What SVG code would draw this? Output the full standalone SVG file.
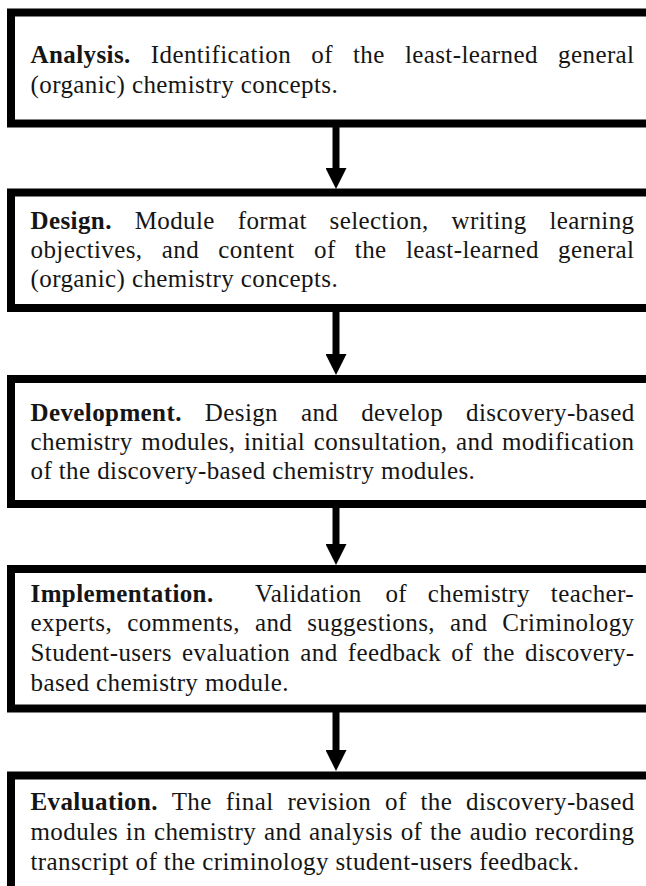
<svg xmlns="http://www.w3.org/2000/svg" width="646" height="886" viewBox="0 0 646 886">
<defs>
<style>
.box{fill:#fff;stroke:#000;stroke-width:8}
.t{font-family:"Liberation Serif","Times New Roman",serif;font-size:25px;letter-spacing:0.4px;fill:#151515}
.b{font-weight:bold}
.conn{stroke:#000;stroke-width:7;fill:none}
</style>
<marker id="ah" markerUnits="userSpaceOnUse" markerWidth="21" markerHeight="21" refX="0" refY="10.5" orient="auto">
<path d="M0,0 L21,10.5 L0,21 Z" fill="#000"/>
</marker>
</defs>
<rect width="646" height="886" fill="#fff"/>

<g id="connectors">
<line class="conn" x1="336" y1="127" x2="336" y2="168" marker-end="url(#ah)"/>
<line class="conn" x1="336" y1="311" x2="336" y2="354" marker-end="url(#ah)"/>
<line class="conn" x1="336" y1="507" x2="336" y2="544" marker-end="url(#ah)"/>
<line class="conn" x1="336" y1="712" x2="336" y2="750" marker-end="url(#ah)"/>
</g>

<g id="analysis">
<rect class="box" x="11" y="12.5" width="641" height="111"/>
<text class="t" y="63"><tspan class="b" x="30.5">Analysis.</tspan><tspan x="150.8">Identification</tspan><tspan x="311.3">of</tspan><tspan x="353.0">the</tspan><tspan x="404.9">least-learned</tspan><tspan x="558.1">general</tspan></text>
<text class="t" x="30.5" y="93">(organic) chemistry concepts.</text>
</g>

<g id="design">
<rect class="box" x="11" y="192.5" width="641" height="115.5"/>
<text class="t" y="229"><tspan class="b" x="30.5">Design.</tspan><tspan x="134.7">Module</tspan><tspan x="237.7">format</tspan><tspan x="329.6">selection,</tspan><tspan x="451.6">writing</tspan><tspan x="549.4">learning</tspan></text>
<text class="t" y="258"><tspan x="30.5">objectives,</tspan><tspan x="161.8">and</tspan><tspan x="218.3">content</tspan><tspan x="314.0">of</tspan><tspan x="354.8">the</tspan><tspan x="405.9">least-learned</tspan><tspan x="558.1">general</tspan></text>
<text class="t" x="30.5" y="287">(organic) chemistry concepts.</text>
</g>

<g id="development">
<rect class="box" x="11" y="379" width="641" height="125"/>
<text class="t" y="421"><tspan class="b" x="30.5">Development.</tspan><tspan x="204.8">Design</tspan><tspan x="300.9">and</tspan><tspan x="361.2">develop</tspan><tspan x="466.1">discovery-based</tspan></text>
<text class="t" y="450"><tspan x="30.5">chemistry</tspan><tspan x="141.3">modules,</tspan><tspan x="244.0">initial</tspan><tspan x="313.8">consultation,</tspan><tspan x="456.0">and</tspan><tspan x="501.9">modification</tspan></text>
<text class="t" x="30.5" y="479">of the discovery-based chemistry modules.</text>
</g>

<g id="implementation">
<rect class="box" x="11" y="569" width="641" height="139.5"/>
<text class="t" y="601.5"><tspan class="b" x="30.5">Implementation.</tspan><tspan x="255">Validation</tspan><tspan x="385.4">of</tspan><tspan x="427.8">chemistry</tspan><tspan x="550.8">teacher-</tspan></text>
<text class="t" y="631"><tspan x="30.5">experts,</tspan><tspan x="127.2">comments,</tspan><tspan x="254.9">and</tspan><tspan x="307.2">suggestions,</tspan><tspan x="450.0">and</tspan><tspan x="502.3">Criminology</tspan></text>
<text class="t" y="661"><tspan x="30.5">Student-users</tspan><tspan x="182.0">evaluation</tspan><tspan x="300.3">and</tspan><tspan x="347.8">feedback</tspan><tspan x="451.3">of</tspan><tspan x="483.1">the</tspan><tspan x="525.0">discovery-</tspan></text>
<text class="t" x="30.5" y="691">based chemistry module.</text>
</g>

<g id="evaluation">
<rect class="box" x="11" y="775.5" width="641" height="115"/>
<text class="t" y="810"><tspan class="b" x="30.5">Evaluation.</tspan><tspan x="171.7">The</tspan><tspan x="225.7">final</tspan><tspan x="287.4">revision</tspan><tspan x="385.0">of</tspan><tspan x="420.5">the</tspan><tspan x="466.1">discovery-based</tspan></text>
<text class="t" y="840"><tspan x="30.5">modules</tspan><tspan x="125.8">in</tspan><tspan x="153.9">chemistry</tspan><tspan x="264.0">and</tspan><tspan x="309.1">analysis</tspan><tspan x="400.7">of</tspan><tspan x="430.1">the</tspan><tspan x="469.7">audio</tspan><tspan x="535.1">recording</tspan></text>
<text class="t" x="30.5" y="870">transcript of the criminology student-users feedback.</text>
</g>
</svg>
